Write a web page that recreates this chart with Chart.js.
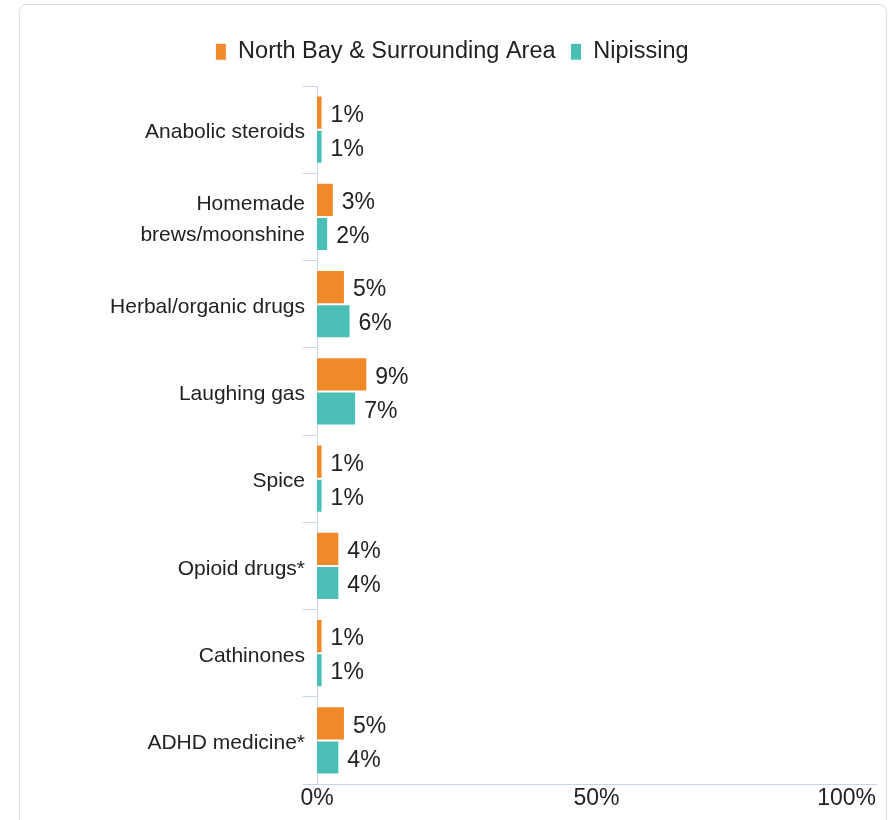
<!DOCTYPE html>
<html>
<head>
<meta charset="utf-8">
<script src="https://cdn.jsdelivr.net/npm/chart.js@4.4.1/dist/chart.umd.min.js"></script>
<style>
  html, body { margin: 0; padding: 0; background: #fff; overflow: hidden; }
  .card {
    position: absolute; left: 19px; top: 4px; width: 866px; height: 900px;
    border: 1px solid #dadada; border-radius: 8px;
  }
  #bar-chart { position: absolute; left: 0; top: 0; }
</style>
</head>
<body>
<div class="card"></div>
<canvas id="bar-chart" width="895" height="820"></canvas>
<script>
var categories = [
  'Anabolic steroids',
  ['Homemade', 'brews/moonshine'],
  'Herbal/organic drugs',
  'Laughing gas',
  'Spice',
  'Opioid drugs*',
  'Cathinones',
  'ADHD medicine*'
];
var northBay = [1, 3, 5, 9, 1, 4, 1, 5];
var nipissing = [1, 2, 6, 7, 1, 4, 1, 4];
var xTickValues = [0, 50, 100];
var xTickLabels = ['0%', '50%', '100%'];

var FONT = '"Liberation Sans", Arial, sans-serif';
var TEXT = '#222';
var AXIS = '#c8d4ea';

// value labels right of every bar
var barLabels = {
  id: 'barLabels',
  afterDatasetsDraw: function(chart) {
    var ctx = chart.ctx;
    ctx.save();
    ctx.font = '23px ' + FONT;
    ctx.fillStyle = TEXT;
    ctx.textAlign = 'left';
    ctx.textBaseline = 'middle';
    chart.data.datasets.forEach(function(ds, i) {
      chart.getDatasetMeta(i).data.forEach(function(bar, j) {
        ctx.fillText(ds.data[j] + '%', bar.x + 8, bar.y + 3);
      });
    });
    ctx.restore();
  }
};

// last x label sits flush with the axis end
var lastTickLabel = {
  id: 'lastTickLabel',
  afterDraw: function(chart) {
    var x = chart.scales.x;
    var ctx = chart.ctx;
    ctx.save();
    ctx.font = '23px ' + FONT;
    ctx.fillStyle = TEXT;
    ctx.textAlign = 'right';
    ctx.textBaseline = 'middle';
    ctx.fillText(xTickLabels[xTickLabels.length - 1], x.getPixelForValue(xTickValues[xTickValues.length - 1]), x.top + 2 + 23 * 1.1 / 2);
    ctx.restore();
  }
};

// extra room under the legend
var legendGap = {
  id: 'legendGap',
  beforeInit: function(chart) {
    var fit = chart.legend.fit;
    chart.legend.fit = function() {
      fit.call(this);
      this.height += 12.5;
    };
  }
};

var mychart = document.getElementById('bar-chart');
var myBarChart = new Chart(mychart, {
  type: 'bar',
  data: {
    labels: categories,
    datasets: [
      {
        label: 'North Bay & Surrounding Area',
        data: northBay,
        backgroundColor: '#f0892a',
        borderColor: '#ffffff',
        borderWidth: 1,
        categoryPercentage: 0.78,
        barPercentage: 1
      },
      {
        label: 'Nipissing',
        data: nipissing,
        backgroundColor: '#4bbfb6',
        borderColor: '#ffffff',
        borderWidth: 1,
        categoryPercentage: 0.78,
        barPercentage: 1
      }
    ]
  },
  options: {
    indexAxis: 'y',
    responsive: false,
    animation: false,
    events: [],
    layout: { padding: { top: 25, left: 28, right: 19, bottom: 6.7 } },
    plugins: {
      legend: {
        position: 'top',
        labels: {
          boxWidth: 11,
          boxHeight: 17,
          padding: 15,
          color: TEXT,
          font: { size: 23.5, family: FONT }
        }
      },
      tooltip: { enabled: false }
    },
    scales: {
      x: {
        min: 0,
        max: 100,
        grid: { display: false, drawTicks: false },
        border: { display: true, color: AXIS, width: 1 },
        ticks: {
          stepSize: 50,
          padding: 2,
          color: TEXT,
          font: { size: 23, family: FONT, lineHeight: 1.1 },
          callback: function(value) {
            var i = xTickValues.indexOf(value);
            return i === xTickLabels.length - 1 ? '' : xTickLabels[i];
          }
        }
      },
      y: {
        grid: { display: true, drawOnChartArea: false, drawTicks: true, tickLength: 14, color: AXIS, offset: true },
        border: { display: true, color: AXIS, width: 1 },
        ticks: {
          padding: -2,
          labelOffset: 3,
          color: TEXT,
          font: { size: 21, family: FONT, lineHeight: 1.48 }
        },
        afterFit: function(scale) {
          scale.width = 289;
        }
      }
    }
  },
  plugins: [barLabels, lastTickLabel, legendGap]
});
</script>
</body>
</html>
